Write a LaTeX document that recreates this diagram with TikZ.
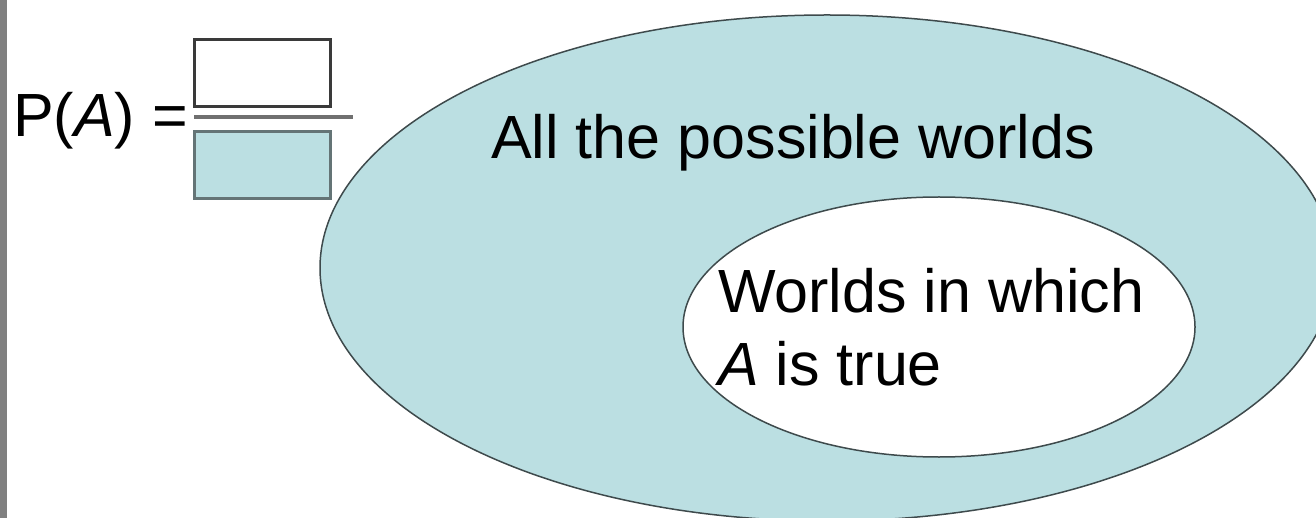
\documentclass[tikz,border=0pt]{standalone}
\usepackage{fontspec}
\setmainfont{Liberation Sans}
\usetikzlibrary{shapes.geometric}
\definecolor{worldfill}{RGB}{187,223,226}
\definecolor{worldline}{RGB}{62,74,76}
\definecolor{bargray}{RGB}{128,128,128}
\definecolor{fracgray}{RGB}{112,112,112}
\definecolor{numline}{RGB}{58,58,58}
\definecolor{denline}{RGB}{100,116,118}
\tikzset{
  labeltext/.style={font=\fontsize{61}{73}\selectfont, inner sep=0pt, text=black},
  world/.style={ellipse, draw=worldline, line width=1.5pt, inner sep=0pt},
  fracbox/.style={rectangle, line width=3pt, inner sep=0pt,
                  minimum width=136pt, minimum height=67pt},
}
\begin{document}
\begin{tikzpicture}[x=1pt,y=-1pt]
  \useasboundingbox (0,0) rectangle (1316,518);
  \clip (0,0) rectangle (1316,518);
  \fill[bargray] (0,0) rectangle (7,518);

  % the fraction
  \node[labeltext, anchor=base east] (prob) at (188,137) {P(\textit{A}) =};
  \node[fracbox, draw=numline, fill=white]     (num) at (262.5,73.5) {};
  \node[fracbox, draw=denline, fill=worldfill] (den) at (262.5,165.5) {};
  \coordinate (barL) at (194,117);
  \coordinate (barR) at (353,117);
  \draw[line width=4pt, fracgray] (barL) -- (barR);

  % the worlds
  \node[world, fill=worldfill, minimum width=1014pt, minimum height=506pt] (all)   at (827,268) {};
  \node[world, fill=white,     minimum width=512pt,  minimum height=260pt] (atrue) at (939,327) {};
  \node[labeltext, anchor=base] (alltext) at (793,159) {All the possible worlds};
  \node[labeltext, anchor=base west, align=left] (atext) at (718,385) {Worlds in which\\\textit{A} is true};
\end{tikzpicture}
\end{document}
